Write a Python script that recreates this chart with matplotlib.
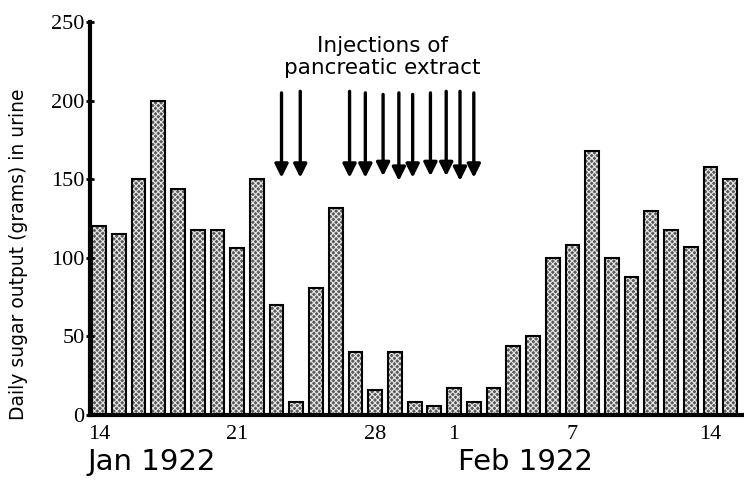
import matplotlib.pyplot as plt

# Daily sugar output, one bar per day from 14 Jan to 15 Feb 1922
sugar = [120, 115, 150, 200, 144, 118, 118, 106, 150, 70, 8, 81, 132,
         40, 16, 40, 8, 6, 17, 8, 17, 44, 50, 100, 108, 168, 100, 88,
         130, 118, 107, 158, 150]

# tick labels (day of month) and the bar they sit under
tick_days = [0, 7, 14, 18, 24, 31]
tick_labels = ['14', '21', '28', '1', '7', '14']

# injection arrows: day position, top and tip (grams)
arrow_x = [9.25, 10.2, 12.7, 13.5, 14.4, 15.2, 15.9, 16.8, 17.6, 18.3, 19.0]
arrow_top = [205, 206, 206, 205, 204, 205, 204, 205, 206, 206, 205]
arrow_tip = [151, 151, 151, 151, 152, 149, 151, 152, 152, 149, 151]


def main():
    plt.rcParams['hatch.linewidth'] = 0.8

    fig = plt.figure(figsize=(7.44, 4.82), dpi=100)
    ax = fig.add_axes([0.121, 0.139, 0.879, 0.815])

    x = list(range(len(sugar)))
    # grey checkered fill, then black outline on top
    ax.bar(x, sugar, width=0.7, color='#5a5a5a', edgecolor='#e8e8e8',
           hatch='xxxxxx', linewidth=0)
    ax.bar(x, sugar, width=0.7, fill=False, edgecolor='black', linewidth=1.5)

    ax.set_xlim(-0.46, 32.7)
    ax.set_ylim(0, 250)

    for side in ['top', 'right']:
        ax.spines[side].set_visible(False)
    ax.spines['left'].set_linewidth(3)
    ax.spines['bottom'].set_linewidth(3)

    ax.set_yticks(range(0, 251, 50))
    ax.set_yticklabels([str(v) for v in range(0, 251, 50)],
                       fontfamily='Liberation Serif', fontsize=16)
    ax.tick_params(axis='y', direction='inout', length=6, width=2, pad=1)

    ax.set_xticks(tick_days)
    ax.set_xticklabels(tick_labels, fontfamily='Liberation Serif', fontsize=16)
    ax.tick_params(axis='x', length=0, pad=7)

    ax.set_ylabel('Daily sugar output (grams) in urine', fontsize=13.5)
    ax.yaxis.set_label_coords(-0.095, 0.41)

    fig.text(0.118, 0.025, 'Jan 1922', fontsize=21, ha='left')
    fig.text(0.706, 0.025, 'Feb 1922', fontsize=21, ha='center')

    for xa, top, tip in zip(arrow_x, arrow_top, arrow_tip):
        ax.annotate('', xy=(xa, tip), xytext=(xa, top),
                    arrowprops=dict(arrowstyle='-|>', color='black', lw=2.4,
                                    mutation_scale=20, shrinkA=0, shrinkB=0))

    ax.text(14.35, 228, 'Injections of\npancreatic extract', fontsize=15.5,
            ha='center', va='center', linespacing=1.1)

    fig.savefig('out.png', dpi=100)


if __name__ == "__main__":
    main()
